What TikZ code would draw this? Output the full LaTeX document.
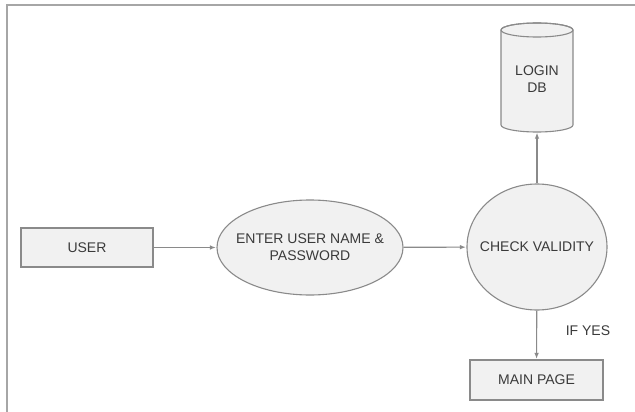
\documentclass[tikz,border=0pt]{standalone}
\usepackage{fontspec}
\setmainfont{Liberation Sans}
\usetikzlibrary{shapes.geometric,arrows.meta}
\definecolor{shapefill}{HTML}{F1F1F1}
\definecolor{shapeline}{HTML}{8A8A8A}
\definecolor{txt}{HTML}{3A3A3A}
\tikzset{
  boxnode/.style={draw=shapeline, fill=shapefill, line width=1.1pt, rectangle, inner sep=0pt},
  ovalnode/.style={draw=shapeline, fill=shapefill, line width=1.1pt, ellipse, inner sep=0pt},
  lbl/.style={text=txt, font=\fontsize{14}{17}\selectfont, align=center, inner sep=0pt},
  flow/.style={draw=shapeline, line width=1.1pt, -{Latex[length=6pt,width=4.5pt]}, shorten >=0.5pt},
}
\begin{document}
\begin{tikzpicture}[x=1pt,y=-1pt]
\useasboundingbox (0,0) rectangle (635,412);
\fill[white] (0,0) rectangle (635,412);
% frame
\draw[color=gray!70, line width=1.5pt] (635,5) -- (7,5) -- (7,412);
% nodes
\node[boxnode, minimum width=132pt, minimum height=39pt, lbl] (user) at (87,247.5) {USER};
\node[ovalnode, minimum width=186pt, minimum height=95pt] (enter) at (310,247.5) {};
\node[lbl] (entertext) at (310,247.5) {ENTER USER NAME \&\\PASSWORD};
\node[ovalnode, minimum width=140pt, minimum height=126pt] (check) at (537,247) {};
\node[lbl] (checktext) at (537,247) {CHECK VALIDITY};
\node[boxnode, minimum width=133pt, minimum height=40pt, lbl] (main) at (536.5,380) {MAIN PAGE};
% cylinder database
\filldraw[draw=shapeline, fill=shapefill, line width=1.1pt]
  (501,30) -- (501,125) arc[start angle=180, end angle=360, x radius=36pt, y radius=7pt]
  -- (573,30) arc[start angle=0, end angle=180, x radius=36pt, y radius=7pt] -- cycle;
\draw[shapeline, line width=1.1pt] (537,30) ellipse[x radius=36pt, y radius=7pt];
\node[minimum width=72pt, minimum height=109pt, inner sep=0pt] (db) at (537,77.5) {};
\node[lbl] (dblabel) at (537,79) {LOGIN\\DB};
% connectors
\draw[flow] (user) -- (enter);
\draw[flow] (enter) -- (check);
\draw[flow] (check) -- (db);
\draw[flow] (check) -- (main);
\node[lbl] (ifyes) at (588,331) {IF YES};
\end{tikzpicture}
\end{document}
